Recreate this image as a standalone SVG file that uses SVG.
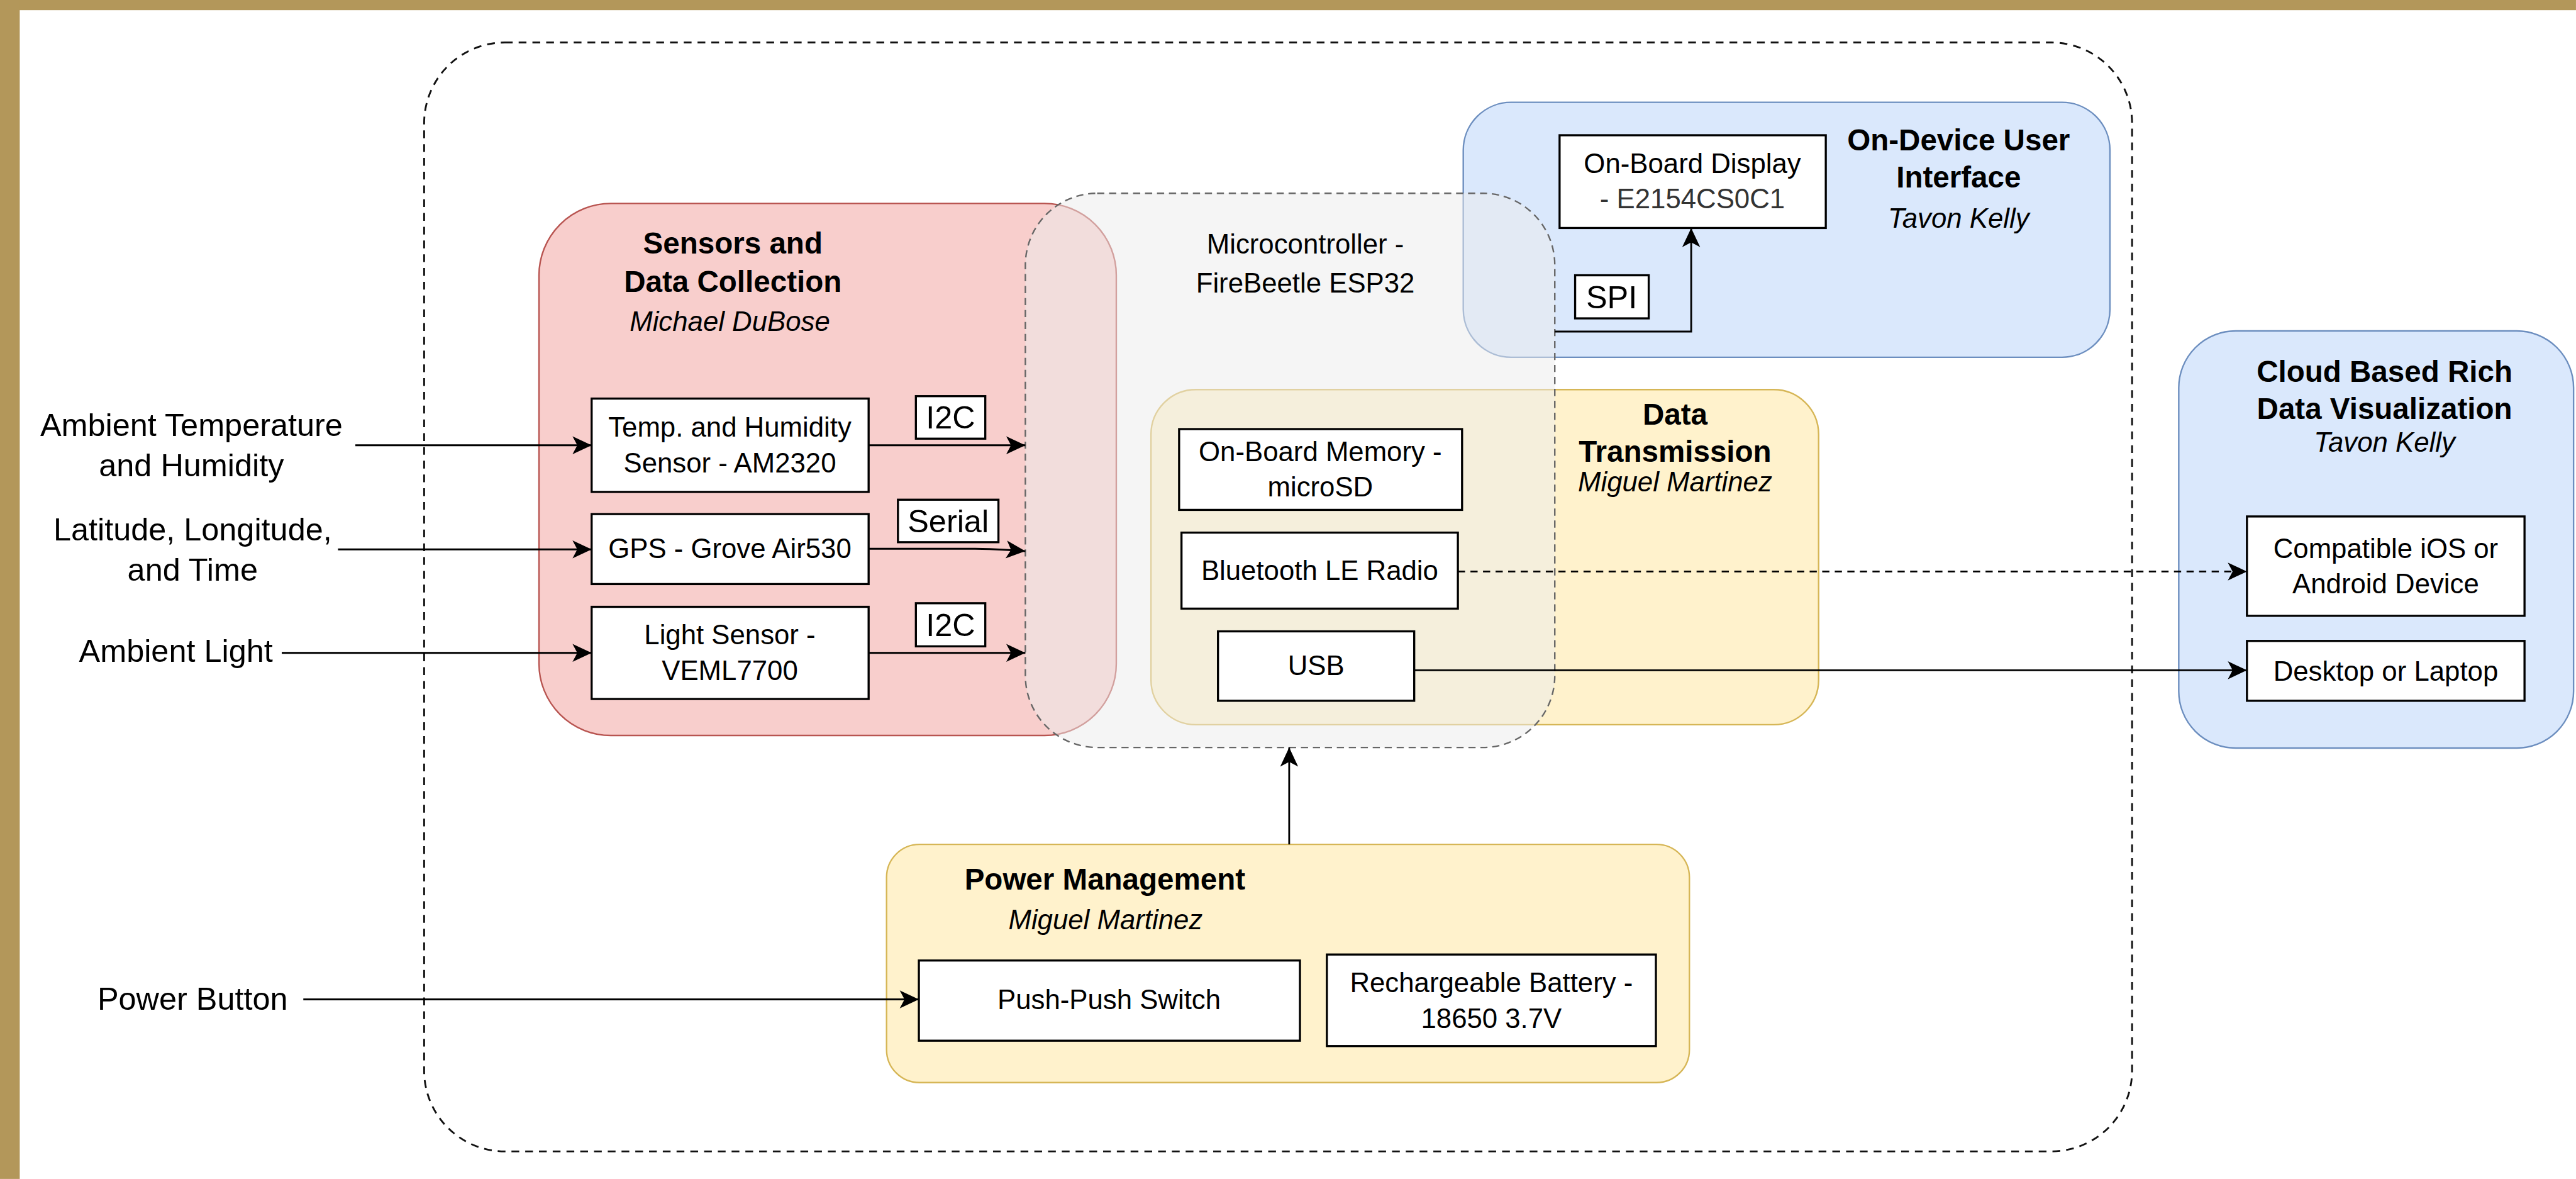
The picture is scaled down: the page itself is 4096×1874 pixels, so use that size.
<svg xmlns="http://www.w3.org/2000/svg" width="4096" height="1874" viewBox="0 0 4096 1874">
<defs>
<style>
text{font-family:"Liberation Sans",Arial,Helvetica,sans-serif;fill:#000;text-anchor:middle}
.t{font-size:46px}
.b{font-size:50px;font-weight:bold}
.i{font-size:46px;font-style:italic}
.ext{font-size:53px}
.lbl{font-size:53px}
.box{fill:#fff;stroke:#000;stroke-width:3.5}
.red{fill:#f8cecc;stroke:#b85450;stroke-width:2.5}
.yel{fill:#fff2cc;stroke:#d6b656;stroke-width:2.5}
.blu{fill:#dae8fc;stroke:#6c8ebf;stroke-width:2.5}
.mcu{fill:#ebebeb;fill-opacity:0.5;stroke:#666;stroke-width:2.5;stroke-dasharray:12 8}
.outer{fill:none;stroke:#111;stroke-width:3;stroke-dasharray:13 10}
.ln{fill:none;stroke:#000;stroke-width:3;marker-end:url(#arr)}
.dash{stroke-dasharray:12 9}
</style>
<marker id="arr" viewBox="-34 -17 36 34" refX="0" refY="0" markerWidth="36" markerHeight="34" markerUnits="userSpaceOnUse" orient="auto">
<path d="M0,0 L-32,-15 L-24,0 L-32,15 Z" fill="#000"/>
</marker>
</defs>
<rect x="0" y="0" width="4096" height="1874" fill="#fff"/>
<g transform="scale(0.95122)">
<rect x="0" y="0" width="4306" height="17" fill="#b3975a"/>
<rect x="0" y="0" width="33" height="1970" fill="#b3975a"/>

<g id="system-boundary"><rect class="outer" x="709" y="71" width="2855" height="1853" rx="135"/></g>

<g id="sensors-group">
<rect class="red" x="901" y="340" width="965" height="889" rx="120"/>
<text class="b" x="1225" y="424">Sensors and</text>
<text class="b" x="1225" y="488">Data Collection</text>
<text class="i" x="1220" y="553">Michael DuBose</text>
</g>

<g id="data-transmission-group">
<rect class="yel" x="1924" y="651" width="1116" height="560" rx="75"/>
<text class="b" x="2800" y="710">Data</text>
<text class="b" x="2800" y="772">Transmission</text>
<text class="i" x="2800" y="821">Miguel Martinez</text>
</g>

<g id="ui-group">
<rect class="blu" x="2446" y="171" width="1081" height="426" rx="80"/>
<text class="b" x="3274" y="251">On-Device User</text>
<text class="b" x="3274" y="313">Interface</text>
<text class="i" x="3274" y="381">Tavon Kelly</text>
</g>

<g id="cloud-group">
<rect class="blu" x="3642" y="553" width="660" height="697" rx="95"/>
<text class="b" x="3986" y="638">Cloud Based Rich</text>
<text class="b" x="3986" y="700">Data Visualization</text>
<text class="i" x="3986" y="755">Tavon Kelly</text>
</g>

<g id="power-group">
<rect class="yel" x="1482" y="1411" width="1342" height="398" rx="55"/>
<text class="b" x="1847" y="1487">Power Management</text>
<text class="i" x="1848" y="1553">Miguel Martinez</text>
</g>

<g id="microcontroller">
<rect class="mcu" x="1714" y="323" width="885" height="926" rx="120"/>
<text class="t" x="2182" y="424">Microcontroller -</text>
<text class="t" x="2182" y="489">FireBeetle ESP32</text>
</g>

<g id="temp-sensor"><rect class="box" x="989" y="666" width="463" height="156"/>
<text class="t" x="1220" y="730">Temp. and Humidity</text>
<text class="t" x="1220" y="789">Sensor - AM2320</text></g>

<g id="gps"><rect class="box" x="989" y="859" width="463" height="117"/>
<text class="t" x="1220" y="933">GPS - Grove Air530</text></g>

<g id="light-sensor"><rect class="box" x="989" y="1014" width="463" height="154"/>
<text class="t" x="1220" y="1077">Light Sensor -</text>
<text class="t" x="1220" y="1136">VEML7700</text></g>

<g id="label-i2c-1"><rect class="box" x="1531" y="662" width="116" height="71"/>
<text class="lbl" x="1589" y="716">I2C</text></g>
<g id="label-serial"><rect class="box" x="1501" y="835" width="168" height="71"/>
<text class="lbl" x="1585" y="889">Serial</text></g>
<g id="label-i2c-2"><rect class="box" x="1531" y="1008" width="116" height="72"/>
<text class="lbl" x="1589" y="1063">I2C</text></g>

<g id="memory"><rect class="box" x="1971" y="717" width="473" height="135"/>
<text class="t" x="2207" y="771">On-Board Memory -</text>
<text class="t" x="2207" y="829">microSD</text></g>

<g id="ble"><rect class="box" x="1975" y="890" width="462" height="127"/>
<text class="t" x="2206" y="969">Bluetooth LE Radio</text></g>

<g id="usb"><rect class="box" x="2036" y="1055" width="328" height="116"/>
<text class="t" x="2200" y="1128">USB</text></g>

<g id="display"><rect class="box" x="2607" y="226" width="445" height="155"/>
<text class="t" x="2829" y="289">On-Board Display</text>
<text class="t" x="2829" y="348" style="fill:#333">- E2154CS0C1</text></g>

<g id="label-spi"><rect class="box" x="2633" y="460" width="123" height="72"/>
<text class="lbl" x="2694" y="515">SPI</text></g>

<g id="mobile"><rect class="box" x="3756" y="863" width="464" height="166"/>
<text class="t" x="3988" y="932">Compatible iOS or</text>
<text class="t" x="3988" y="991">Android Device</text></g>

<g id="desktop"><rect class="box" x="3756" y="1071" width="464" height="100"/>
<text class="t" x="3988" y="1137">Desktop or Laptop</text></g>

<g id="push-switch"><rect class="box" x="1536" y="1605" width="637" height="134"/>
<text class="t" x="1854" y="1686">Push-Push Switch</text></g>

<g id="battery"><rect class="box" x="2218" y="1595" width="550" height="153"/>
<text class="t" x="2493" y="1658">Rechargeable Battery -</text>
<text class="t" x="2493" y="1718">18650 3.7V</text></g>

<g id="input-labels">
<text class="ext" x="320" y="729">Ambient Temperature</text>
<text class="ext" x="320" y="796">and Humidity</text>
<text class="ext" x="322" y="903">Latitude, Longitude,</text>
<text class="ext" x="322" y="970">and Time</text>
<text class="ext" x="294" y="1106">Ambient Light</text>
<text class="ext" x="322" y="1687">Power Button</text>
</g>

<g id="connectors">
<path class="ln" d="M594 744 L989 744"/>
<path class="ln" d="M565 918 L989 918"/>
<path class="ln" d="M471 1091 L989 1091"/>
<path class="ln" d="M507 1670 L1536 1670"/>
<path class="ln" d="M1452 744 L1714 744"/>
<path class="ln" d="M1452 917 L1630 917 Q1680 918 1714 921"/>
<path class="ln" d="M1452 1091 L1714 1091"/>
<path class="ln dash" d="M2437 955 L3756 955"/>
<path class="ln" d="M2364 1120 L3756 1120"/>
<path class="ln" d="M2155 1411 L2155 1249"/>
<path class="ln" d="M2599 554 L2827 554 L2827 381"/>
</g>
</g>
</svg>
